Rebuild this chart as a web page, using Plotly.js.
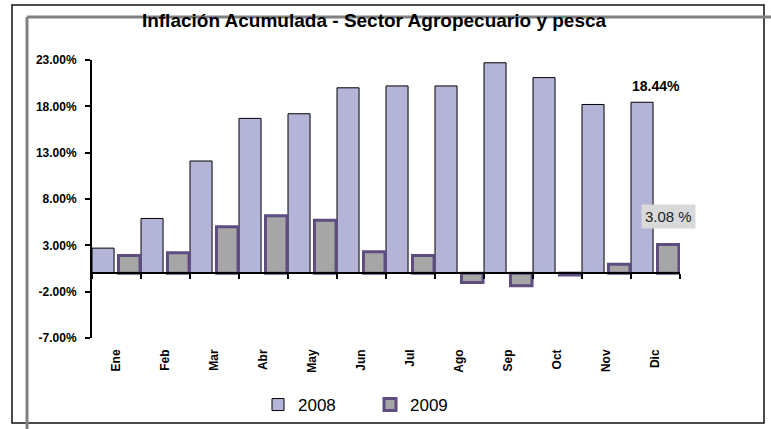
<!DOCTYPE html>
<html>
<head>
<meta charset="utf-8">
<script src="https://cdn.plot.ly/plotly-3.0.1.min.js"></script>
<style>html,body{margin:0;padding:0;background:#fff;}#chart{width:771px;height:429px;}</style>
</head>
<body>
<div id="chart"></div>
<script>
const months = ["Ene","Feb","Mar","Abr","May","Jun","Jul","Ago","Sep","Oct","Nov","Dic"];
const values2008 = [2.7, 5.9, 12.1, 16.7, 17.2, 20.0, 20.2, 20.2, 22.7, 21.1, 18.2, 18.44];
const values2009 = [1.9, 2.2, 5.0, 6.2, 5.7, 2.3, 1.9, -1.0, -1.35, -0.2, 0.95, 3.08];
const yTickVals = [-7, -2, 3, 8, 13, 18, 23];
const yTickText = ["-7.00%", "-2.00%", "3.00%", "8.00%", "13.00%", "18.00%", "23.00%"];
const titleText = "Inflación Acumulada - Sector Agropecuario y pesca";
const labelDic2008 = "18.44%";
const labelDic2009 = "3.08 %";

const L = 92, R = 680, T = 60, B = 338, W = 771, H = 429;
const pw = R - L, ph = B - T;
const px = v => (v - L) / pw;
const py = v => (B - v) / ph;
const FONT = "Liberation Sans, Arial, sans-serif";

const traces = [
  {
    type: "bar", name: "2008", x: months, y: values2008,
    xaxis: "x", yaxis: "y",
    offset: -0.5, width: 0.45,
    marker: {color: "#B4B4D8", line: {color: "#000000", width: 1}}
  },
  {
    type: "bar", name: "2009", x: months, y: values2009,
    xaxis: "x2", yaxis: "y",
    offset: 0.04, width: 0.44,
    marker: {color: "#A6A6A6", line: {color: "#5E4D80", width: 3}}
  }
];

const layout = {
  width: W, height: H,
  margin: {l: L, r: W - R, t: T, b: H - B, autoexpand: false},
  paper_bgcolor: "#ffffff", plot_bgcolor: "#ffffff",
  font: {family: FONT, color: "#000"},
  showlegend: true,
  title: {
    text: "<b>" + titleText + "</b>",
    font: {size: 19, family: FONT, color: "#000"},
    x: 374 / W, xref: "container", xanchor: "center",
    y: 1 - 20 / H, yref: "container", yanchor: "middle",
    automargin: false
  },
  barmode: "group",
  xaxis: {
    type: "category", categoryorder: "array", categoryarray: months,
    range: [-0.5, 11.5], anchor: "y", side: "bottom", automargin: false,
    showline: false, ticks: "", showgrid: false, zeroline: false,
    tickangle: -90, tickfont: {size: 12, family: FONT, weight: "bold", color: "#000"},
    ticklabelstandoff: 8
  },
  xaxis2: {
    type: "category", categoryorder: "array", categoryarray: months,
    range: [-0.5, 11.5], overlaying: "x", anchor: "free", automargin: false,
    position: 7 / 30,
    showline: true, linecolor: "#000", linewidth: 2,
    ticks: "outside", tickson: "boundaries", ticklen: 5, tickwidth: 2, tickcolor: "#000",
    showticklabels: false, showgrid: false, zeroline: false
  },
  yaxis: {
    range: [-7, 23], tickvals: yTickVals, ticktext: yTickText, automargin: false,
    showline: true, linecolor: "#000", linewidth: 2,
    ticks: "outside", ticklen: 5, tickwidth: 2, tickcolor: "#000",
    showgrid: false, zeroline: false, ticklabelstandoff: 6,
    tickfont: {size: 12, family: FONT, weight: "bold", color: "#000"}
  },
  legend: {
    orientation: "h", xref: "container", yref: "container",
    x: 258 / W, xanchor: "left", y: 1 - 405 / H, yanchor: "middle",
    font: {size: 17, family: FONT, color: "#000"},
    entrywidth: 67, entrywidthmode: "pixels", itemwidth: 30,
    bgcolor: "rgba(0,0,0,0)"
  },
  annotations: [
    {
      xref: "x", yref: "y", x: "Dic", y: values2008[11], text: "<b>" + labelDic2008 + "</b>",
      showarrow: false, xshift: 0, yanchor: "bottom", yshift: 6,
      font: {size: 14, family: FONT, color: "#000"}
    },
    {
      xref: "x", yref: "y", x: "Dic", y: values2009[11], text: labelDic2009,
      showarrow: false, xshift: 13, yanchor: "bottom", yshift: 16,
      bgcolor: "#D9D9D9", borderpad: 3,
      font: {size: 15, family: FONT, color: "#222"}
    }
  ],
  shapes: [
    {type: "rect", xref: "paper", yref: "paper", x0: px(12), x1: px(764), y0: py(423), y1: py(5),
     line: {color: "#111", width: 1.5}, fillcolor: "rgba(0,0,0,0)", layer: "below"},
    {type: "line", xref: "paper", yref: "paper", x0: px(27), x1: px(771), y0: py(17), y1: py(17),
     line: {color: "#808080", width: 3}},
    {type: "line", xref: "paper", yref: "paper", x0: px(27), x1: px(27), y0: py(17), y1: py(429),
     line: {color: "#808080", width: 3}}
  ]
};

Plotly.newPlot("chart", traces, layout, {displayModeBar: false, staticPlot: true});
</script>
</body>
</html>
